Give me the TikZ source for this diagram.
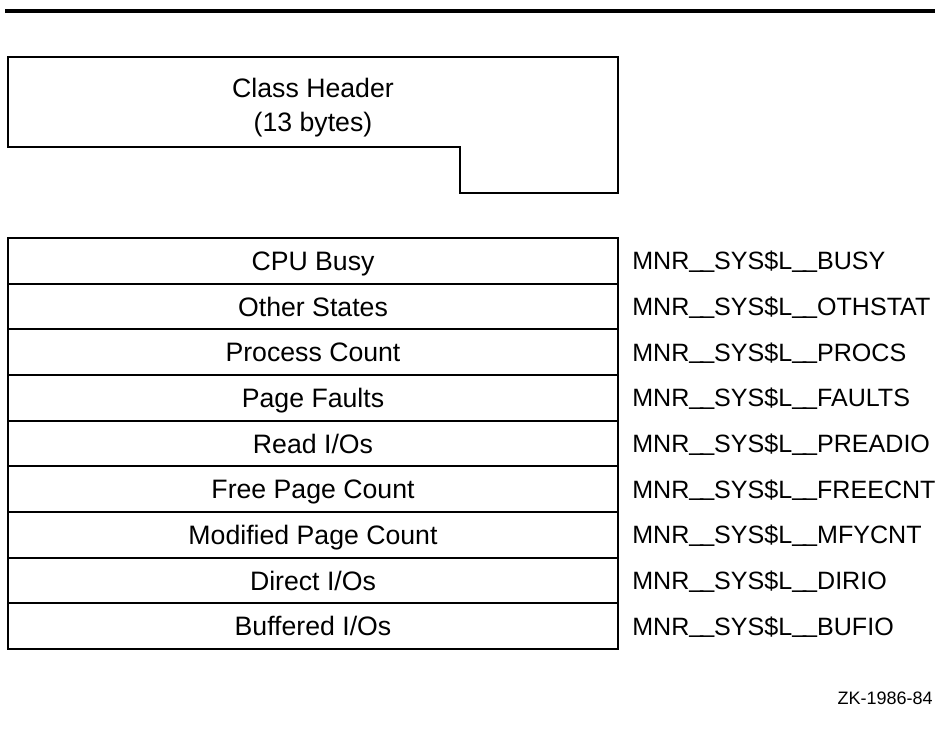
\documentclass[tikz,border=0pt]{standalone}
\usepackage{fontspec}
\setmainfont{Liberation Sans}
\newcommand{\us}{\raisebox{0.1em}{\_\kern-0.12em\_}}
\begin{document}
\begin{tikzpicture}[x=0.75pt,y=-0.75pt,
  boxline/.style={line width=1.5pt,line join=miter},
  rowtext/.style={font=\fontsize{20pt}{24pt}\selectfont,inner sep=0pt,text height=14.3pt,text depth=0pt},
  fieldname/.style={font=\fontsize{18.8pt}{22pt}\selectfont,inner sep=0pt,text height=13.5pt,text depth=0pt,anchor=west},
  figid/.style={font=\fontsize{13.5pt}{16pt}\selectfont,inner sep=0pt,anchor=east}]
\useasboundingbox (0,0) rectangle (937,729);
% top rule
\draw[line width=3pt] (5,11) -- (935,11);
% class header box
\draw[boxline] (8,57) -- (618,57) -- (618,193) -- (460,193) -- (460,147) -- (8,147) -- cycle;
\node[rowtext] (hdr1) at (313,88) {Class Header};
\node[rowtext] (hdr2) at (313,122) {(13 bytes)};
% table rows
\foreach \i/\t/\l in {0/{CPU Busy}/BUSY,1/{Other States}/OTHSTAT,2/{Process Count}/PROCS,3/{Page Faults}/FAULTS,4/{Read I/Os}/PREADIO,5/{Free Page Count}/FREECNT,6/{Modified Page Count}/MFYCNT,7/{Direct I/Os}/DIRIO,8/{Buffered I/Os}/BUFIO}{
  \pgfmathsetmacro{\ytop}{238+45.67*\i}
  \pgfmathsetmacro{\ybot}{238+45.67*(\i+1)}
  \pgfmathsetmacro{\ymid}{238+45.67*(\i+0.5)}
  \draw[boxline] (8,\ytop) rectangle (618,\ybot);
  \node[rowtext] (row\i) at (313,\ymid) {\t};
  \node[fieldname] (fld\i) at (632,\ymid) {MNR\us SYS\$L\us \l};
}
\node[figid] (zk) at (933,698) {ZK-1986-84};
\end{tikzpicture}
\end{document}
